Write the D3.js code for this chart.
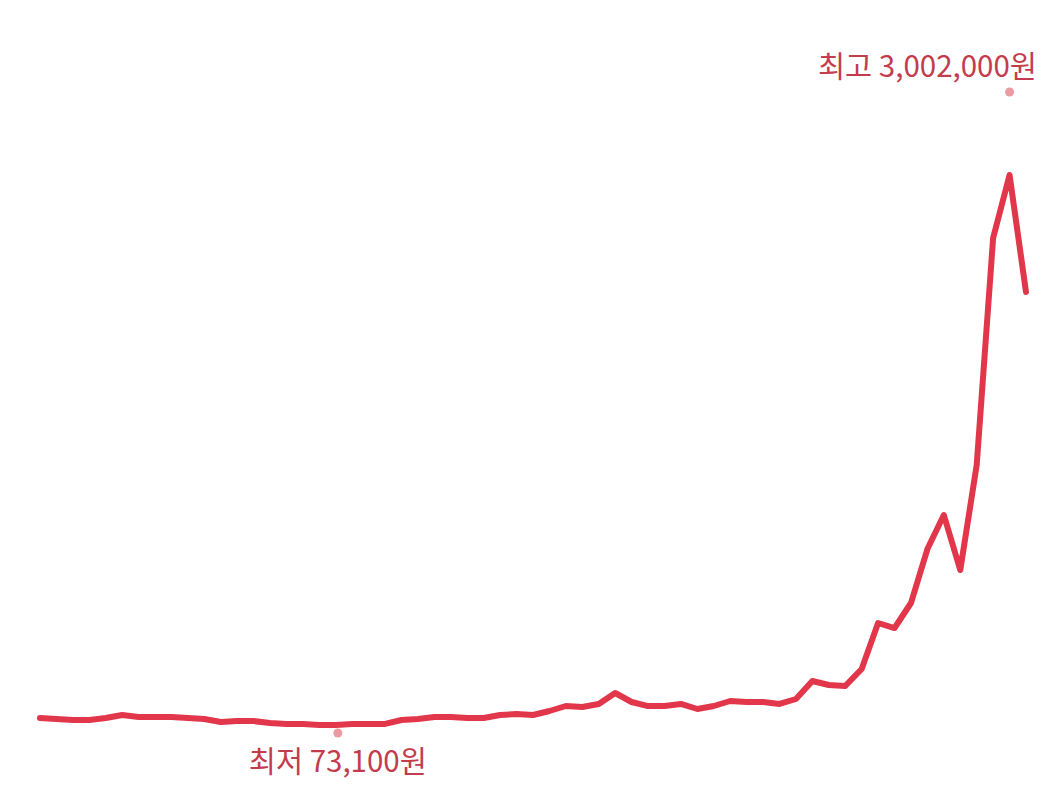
<!DOCTYPE html>
<html>
<head>
<meta charset="utf-8">
<script src="https://cdn.jsdelivr.net/npm/d3@7"></script>
<style>
  html, body { margin: 0; padding: 0; background: #fff; }
  svg { display: block; }
</style>
</head>
<body>
<div id="chart"></div>
<script>
(function () {
  'use strict';
  /* global d3 */

  // price in won, one value per period
  var prices = [
    110400, 105100, 99700, 99500, 110000, 126300, 115700, 115500, 116000, 110200,
    105000, 89100, 94400, 94000, 83700, 78400, 78600, 73600, 73100, 78500,
    78300, 78700, 99700, 105100, 115700, 116000, 110400, 110000, 126350, 131700,
    126400, 147650, 174300, 168950, 184900, 243500, 195600, 174000, 174500, 185000,
    158300, 174300, 200900, 195600, 196000, 185000, 211550, 307400, 286100, 280800,
    371300, 616300, 589600, 722750, 1010300, 1191350, 898500, 1457600, 2666400, 3002000,
    2378800
  ];
  var highLabel = '최고 3,002,000원';
  var lowLabel = '최저 73,100원';

  var w = 1056,
      h = 805;

  var svg = d3.select('#chart')
    .append('svg')
    .attr('width', w)
    .attr('height', h);

  var x = d3.scaleLinear()
    .domain([0, prices.length - 1])
    .range([40, 1026]);

  var y = d3.scaleLinear()
    .domain([d3.min(prices), d3.max(prices)])
    .range([725, 175]);

  var line = d3.line()
    .x(function (d, i) { return x(i); })
    .y(function (d) { return y(d); })
    .curve(d3.curveLinear);

  svg.append('path')
    .attr('d', line(prices))
    .attr('fill', 'none')
    .attr('stroke', '#e2364a')
    .attr('stroke-width', 6)
    .attr('stroke-linejoin', 'round')
    .attr('stroke-linecap', 'round');

  var hiIdx = d3.maxIndex(prices),
      loIdx = d3.minIndex(prices);

  var font = '"Noto Sans CJK KR", "Noto Sans", sans-serif';

  // high marker
  svg.append('circle')
    .attr('cx', x(hiIdx))
    .attr('cy', y(prices[hiIdx]) - 83)
    .attr('r', 4.5)
    .attr('fill', '#eb9aa2');

  svg.append('text')
    .attr('x', 1037)
    .attr('y', 77)
    .attr('text-anchor', 'end')
    .attr('font-family', font)
    .attr('font-size', 29.5)
    .attr('fill', '#c33c4d')
    .text(highLabel);

  // low marker
  svg.append('circle')
    .attr('cx', x(loIdx) + 2)
    .attr('cy', y(prices[loIdx]) + 8)
    .attr('r', 4.5)
    .attr('fill', '#eb9aa2');

  svg.append('text')
    .attr('x', x(loIdx) + 2)
    .attr('y', 772)
    .attr('text-anchor', 'middle')
    .attr('font-family', font)
    .attr('font-size', 29.5)
    .attr('fill', '#c33c4d')
    .text(lowLabel);

}());
</script>
</body>
</html>
